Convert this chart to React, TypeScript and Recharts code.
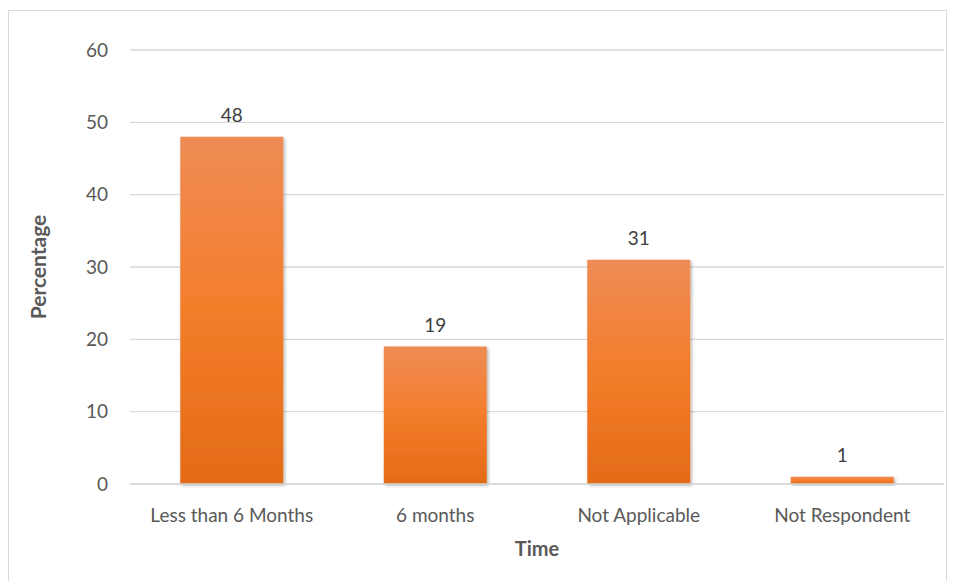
import React from "react";
import { BarChart, Bar, XAxis, YAxis, CartesianGrid, LabelList, Label } from "recharts";

const categories = ["Less than 6 Months", "6 months", "Not Applicable", "Not Respondent"];
const percentages = [48, 19, 31, 1];
const yTicks = [0, 10, 20, 30, 40, 50, 60];

const data = categories.map((c, i) => ({ name: c, value: percentages[i] }));

const FONT = "Lato, 'Open Sans', sans-serif";

export default function App() {
  return (
    <div style={{ position: "absolute", left: 0, top: 0, width: 956, height: 581, background: "#fff", overflow: "hidden" }}>
      <div style={{ position: "absolute", left: 8, top: 10, width: 939, height: 600, border: "1.5px solid #D9D9D9", boxSizing: "border-box" }} />
      <div style={{ position: "absolute", left: 0, top: 0 }}>
        <BarChart
          width={956}
          height={581}
          data={data}
          margin={{ top: 50, right: 12, bottom: 67, left: 0 }}
          barCategoryGap="24.7%"
          style={{ fontFamily: FONT }}
        >
          <defs>
            <linearGradient id="barGrad" x1="0" y1="0" x2="0" y2="1">
              <stop offset="0%" stopColor="#EE8C55" />
              <stop offset="50%" stopColor="#F47D2B" />
              <stop offset="100%" stopColor="#E36B17" />
            </linearGradient>
            <filter id="shadow" x="-10%" y="-10%" width="130%" height="130%">
              <feDropShadow dx="1.5" dy="1.5" stdDeviation="1.5" floodColor="#000" floodOpacity="0.3" />
            </filter>
          </defs>
          <CartesianGrid vertical={false} stroke="#D9D9D9" strokeWidth={1.3} />
          <XAxis
            dataKey="name"
            height={30}
            axisLine={{ stroke: "#D9D9D9", strokeWidth: 1.3 }}
            tickLine={false}
            tickSize={0}
            tickMargin={25}
            tick={{ fill: "#595959", fontSize: 19, fontFamily: FONT }}
            interval={0}
          >
            <Label value="Time" position="bottom" offset={28} style={{ fill: "#595959", fontSize: 20, fontWeight: 700, fontFamily: FONT }} />
          </XAxis>
          <YAxis
            width={130}
            domain={[0, 60]}
            ticks={yTicks}
            axisLine={false}
            tickLine={false}
            tickSize={0}
            tickMargin={22}
            tick={{ fill: "#595959", fontSize: 19, fontFamily: FONT }}
          >
            <Label
              value="Percentage"
              angle={-90}
              position="insideLeft"
              offset={39}
              style={{ textAnchor: "middle", fill: "#595959", fontSize: 21, fontWeight: 700, fontFamily: FONT }}
            />
          </YAxis>
          <Bar dataKey="value" fill="url(#barGrad)" filter="url(#shadow)" isAnimationActive={false}>
            <LabelList dataKey="value" position="top" offset={15} style={{ fill: "#404040", fontSize: 19, fontFamily: FONT }} />
          </Bar>
        </BarChart>
      </div>
    </div>
  );
}
